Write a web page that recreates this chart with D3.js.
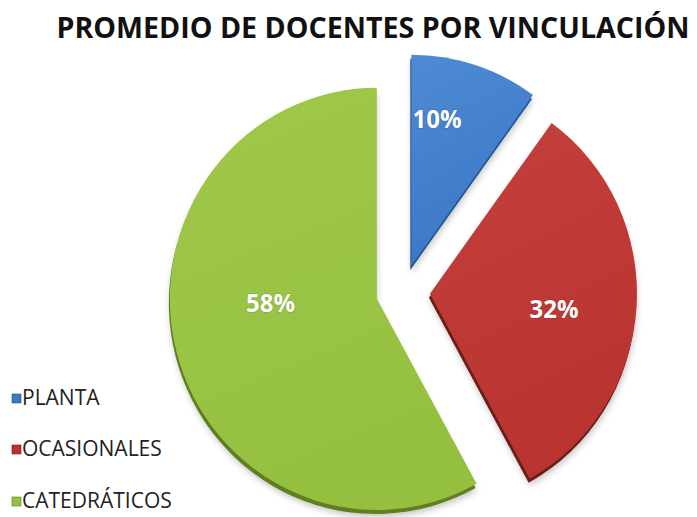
<!DOCTYPE html>
<html>
<head>
<meta charset="utf-8">
<script src="https://cdn.jsdelivr.net/npm/d3@7/dist/d3.min.js"></script>
<style>
  html, body { margin: 0; padding: 0; background: #ffffff; }
  svg { display: block; }
</style>
</head>
<body>
<svg id="chart" width="697" height="517"></svg>
<script>
const title = "PROMEDIO DE DOCENTES POR VINCULACIÓN";
const categories = ["PLANTA", "OCASIONALES", "CATEDRÁTICOS"];
const values = [10, 32, 58];
const labels = ["10%", "32%", "58%"];
const colors = ["#3b77c4", "#b93431", "#95c03f"];
const lightColors = ["#4f8ad4", "#c4403c", "#a0c84c"];
const darkColors = ["#234f8e", "#6e1a18", "#5f7f22"];

const W = 697, H = 517;
const svg = d3.select("#chart");
const defs = svg.append("defs");

defs.append("filter").attr("id", "shadow").attr("x", "-20%").attr("y", "-20%").attr("width", "140%").attr("height", "140%")
  .append("feDropShadow").attr("dx", 1).attr("dy", 3).attr("stdDeviation", 3).attr("flood-color", "#000").attr("flood-opacity", 0.22);

categories.forEach((c, i) => {
  const g = defs.append("linearGradient").attr("id", "grad" + i)
    .attr("x1", "0").attr("y1", "0").attr("x2", "0.3").attr("y2", "1");
  g.append("stop").attr("offset", "0%").attr("stop-color", lightColors[i]);
  g.append("stop").attr("offset", "100%").attr("stop-color", colors[i]);
});

// Title
svg.append("text")
  .attr("x", 373).attr("y", 38)
  .attr("text-anchor", "middle")
  .attr("font-family", "'Open Sans', 'DejaVu Sans', sans-serif")
  .attr("font-weight", 700)
  .attr("font-size", 29)
  .attr("textLength", 633)
  .attr("lengthAdjust", "spacingAndGlyphs")
  .attr("fill", "#111")
  .text(title);

// Pie
const cx = 403, cy = 292, r = 207, explode = 27;
const pie = d3.pie().sort(null).value(d => d)(values);
const arc = d3.arc().innerRadius(0).outerRadius(r);

const pieG = svg.append("g").attr("transform", `translate(${cx},${cy}) scale(1,1.02)`);

const slices = pieG.selectAll("g.slice").data(pie).enter().append("g")
  .attr("class", "slice")
  .attr("transform", d => {
    const a = (d.startAngle + d.endAngle) / 2;
    return `translate(${Math.sin(a) * explode},${-Math.cos(a) * explode})`;
  });

// 3D side (thickness)
slices.append("path")
  .attr("d", arc)
  .attr("transform", "translate(-1,4)")
  .attr("fill", (d, i) => darkColors[i])
  .attr("filter", "url(#shadow)");

// top face
slices.append("path")
  .attr("d", arc)
  .attr("fill", (d, i) => `url(#grad${i})`);

// labels
const labelArc = d3.arc().innerRadius(r * 0.62).outerRadius(r * 0.62);
slices.append("text")
  .attr("transform", (d, i) => {
    const p = labelArc.centroid(d);
    const adj = [[-14, -13], [-4, 16], [18, -19]][i];
    return `translate(${p[0] + adj[0]},${p[1] + adj[1]})`;
  })
  .attr("text-anchor", "middle")
  .attr("font-family", "'Open Sans', 'DejaVu Sans', sans-serif")
  .attr("font-weight", 700)
  .attr("font-size", 24)
  .attr("fill", "#ffffff")
  .style("paint-order", "stroke")
  .attr("stroke", "rgba(0,0,0,0.15)")
  .attr("stroke-width", 1.5)
  .text((d, i) => labels[i]);

// Legend
const legend = svg.append("g");
const legendY = [398, 449, 501];
categories.forEach((c, i) => {
  const g = legend.append("g").attr("transform", `translate(12,${legendY[i]})`);
  g.append("rect").attr("x", 0).attr("y", -4).attr("width", 9).attr("height", 9)
    .attr("fill", colors[i]).attr("stroke", darkColors[i]).attr("stroke-width", 0.6);
  g.append("text").attr("x", 10).attr("y", 7)
    .attr("font-family", "'Open Sans', 'DejaVu Sans', sans-serif")
    .attr("font-size", 21)
    .attr("fill", "#222")
    .text(c);
});
</script>
</body>
</html>
